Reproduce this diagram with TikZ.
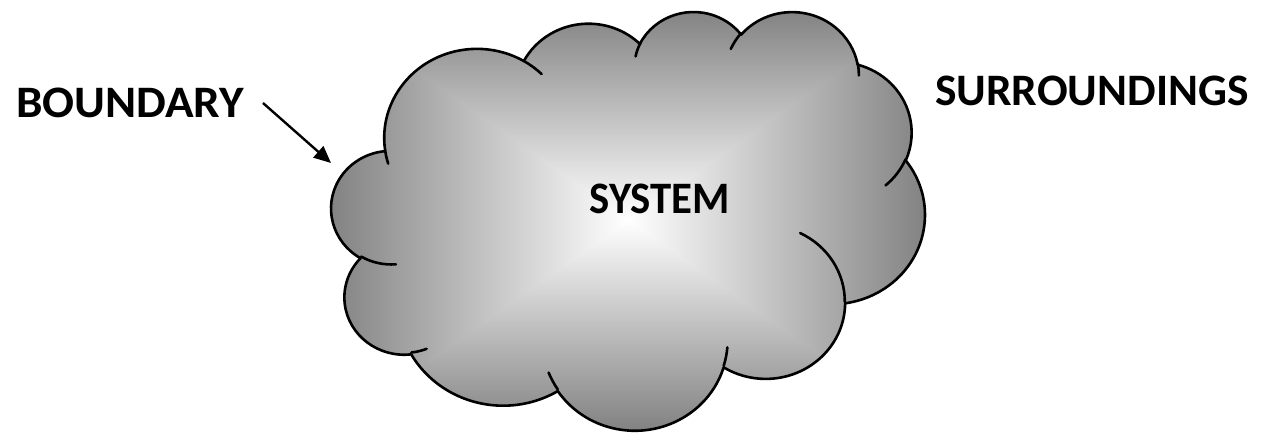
\documentclass[tikz,border=0pt]{standalone}
\usepackage{fontspec}
\setmainfont{Carlito}
\usetikzlibrary{arrows.meta}
\definecolor{edgegray}{RGB}{125,125,125}
% arc in DrawingML style: rx, ry, visual start angle, visual sweep
\newcommand\carc[4]{arc[start angle={atan2((#1)*sin(#3),(#2)*cos(#3))}, delta angle={mod(atan2((#1)*sin((#3)+(#4)),(#2)*cos((#3)+(#4)))-atan2((#1)*sin(#3),(#2)*cos(#3))+720,360)}, x radius=#1, y radius=#2]}
\newcommand\cloudpath{(3.900,14.370)
 \carc{6.753}{9.190}{-190.4875}{123.7805}
 \carc{5.333}{7.267}{-144.1024}{89.9452}
 \carc{4.365}{5.945}{-145.8079}{99.7230}
 \carc{4.857}{6.595}{-130.9861}{117.2417}
 \carc{5.333}{7.273}{-78.7089}{109.0269}
 \carc{6.775}{9.220}{-46.2673}{130.2690}
 \carc{5.785}{7.867}{0.6250}{114.0333}
 \carc{6.752}{9.215}{22.4516}{115.1726}
 \carc{7.720}{10.543}{66.2426}{75.7110}
 \carc{4.360}{5.918}{-274.9421}{146.7356}
 \carc{4.345}{5.945}{-246.8285}{152.5189}
 -- cycle}
\tikzset{
  outline/.style={line width=2.6pt, line join=round, line cap=round},
  label/.style={font=\bfseries\fontsize{45}{50}\selectfont, inner sep=0pt},
}
\begin{document}
\begin{tikzpicture}[x=1pt,y=1pt]
\useasboundingbox (0,0) rectangle (1265,-432);
\begin{scope}[shift={(331.5pt,-10.66pt)}, x=13.732pt, y=-9.689pt]
  \begin{scope}
    \clip \cloudpath;
    \shade[top color=edgegray, bottom color=white] (-1,-1) rectangle (44.2,21.6);
    \shade[top color=white, bottom color=edgegray] (-1,21.6) rectangle (44.2,44.2);
    \shade[left color=edgegray, right color=white] (0,0) -- (21.6,21.6) -- (0,43.2) -- (-1,43.2) -- (-1,0) -- cycle;
    \shade[left color=white, right color=edgegray] (43.2,0) -- (21.6,21.6) -- (43.2,43.2) -- (44.2,43.2) -- (44.2,0) -- cycle;
  \end{scope}
  \draw[outline] \cloudpath;
  \draw[outline]
    (4.693,26.177) \carc{4.345}{5.945}{86.742}{26.4295}
    (6.928,34.899) \carc{4.360}{5.918}{73.6105}{11.4475}
    (16.478,39.090) \carc{6.752}{9.215}{137.6242}{14.0811}
    (28.827,34.751) \carc{6.752}{9.215}{6.4533}{15.9984}
    (34.129,22.954) \carc{5.785}{7.867}{-70.2924}{70.9174}
    (41.798,15.354) \carc{5.333}{7.273}{30.318}{27.7515}
    (38.324,5.426) \carc{4.857}{6.595}{-13.7443}{14.8589}
    (29.078,3.952) \carc{4.857}{6.595}{-149.1815}{18.1954}
    (22.141,4.720) \carc{4.365}{5.945}{-163.4943}{17.6864}
    (14.000,5.192) \carc{6.753}{9.190}{-66.707}{12.3194}
    (4.127,15.789) \carc{6.753}{9.190}{157.6544}{11.8582};
\end{scope}
\node[label, anchor=base west, xscale=1.05] (boundary) at (16,-117) {BOUNDARY};
\node[label, anchor=base west, xscale=1.01] (surr) at (935,-105) {SURROUNDINGS};
\node[label, anchor=base, xscale=0.95] (system) at (660,-213) {SYSTEM};
\coordinate (arrowstart) at (263,-103);
\coordinate (arrowend) at (331,-163);
\draw[line width=2.4pt, -{Triangle[length=17pt,width=15pt]}] (arrowstart) -- (arrowend);
\end{tikzpicture}
\end{document}
